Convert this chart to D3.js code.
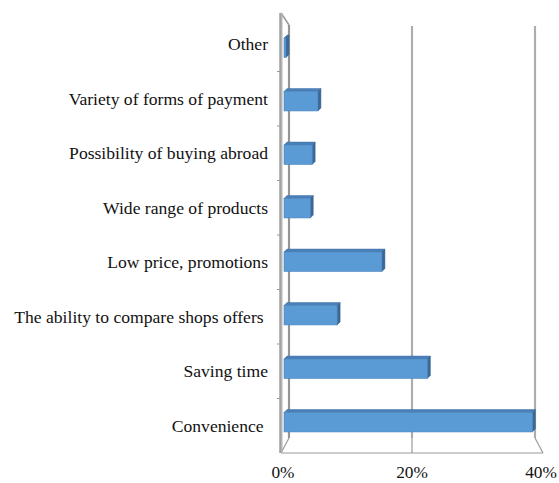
<!DOCTYPE html>
<html><head><meta charset="utf-8">
<script src="https://cdn.jsdelivr.net/npm/d3@7"></script>
<style>
html,body{margin:0;padding:0;background:#fff;}
svg{display:block;}
text{font-family:"Liberation Serif","DejaVu Serif","Times New Roman",serif;fill:#111;white-space:pre;}
</style></head>
<body><svg id="c" width="559" height="483"></svg>
<script>
const categories = ["Other","Variety of forms of payment","Possibility of buying abroad","Wide range of products","Low price, promotions","The ability to compare shops offers ","Saving time","Convenience "];
const values = [0.3, 5.3, 4.4, 4.1, 15.3, 8.3, 22.4, 38.8];
const tickValues = [0, 20, 40];
const tickLabels = ["0%","20%","40%"];

const svg = d3.select("#c");

const xFront = d3.scaleLinear().domain([0,40]).range([281,543]);
const xBack  = d3.scaleLinear().domain([0,40]).range([289,535]);
const xBar   = d3.scaleLinear().domain([0,40]).range([284,540]);
const yFront = d3.scaleBand().domain(categories).range([17,453]);
const yBar   = d3.scaleBand().domain(categories).range([20,448]).paddingInner(0.6).paddingOuter(0.3);
const backTop = 25, backBot = 438, frontTop = 13, frontBot = 453;

const grid = svg.append("g");
tickValues.forEach((t,i)=>{
  const xb = xBack(t), xf = xFront(t);
  if (i>0) {
    grid.append("line").attr("x1",xb).attr("x2",xb).attr("y1",backTop+1).attr("y2",backBot)
      .attr("stroke","#c4c4c4").attr("stroke-width",2.2);
    grid.append("line").attr("x1",xb).attr("x2",xb).attr("y1",backTop+1).attr("y2",backBot)
      .attr("stroke","#8c8c8c").attr("stroke-width",0.8);
  }
  grid.append("line").attr("x1",xb).attr("x2",xf).attr("y1",backBot).attr("y2",frontBot)
    .attr("stroke","#9a9a9a").attr("stroke-width",1.2);
});
grid.append("line").attr("x1",xBack(0)).attr("x2",xBack(0)).attr("y1",backTop).attr("y2",backBot)
  .attr("stroke","#a8a8a8").attr("stroke-width",2.2);
grid.append("line").attr("x1",xBack(0)).attr("x2",xBack(0)).attr("y1",backTop).attr("y2",backBot)
  .attr("stroke","#7a7a7a").attr("stroke-width",0.8);
grid.append("line").attr("x1",xFront(0)).attr("x2",xBack(0)).attr("y1",frontTop).attr("y2",backTop)
  .attr("stroke","#9a9a9a").attr("stroke-width",1.5);
grid.append("line").attr("x1",xFront(0)).attr("x2",xFront(40)).attr("y1",frontBot).attr("y2",frontBot)
  .attr("stroke","#9a9a9a").attr("stroke-width",1.2);
grid.append("line").attr("x1",xFront(0)).attr("x2",xFront(0)).attr("y1",frontTop).attr("y2",frontBot)
  .attr("stroke","#b4b4b4").attr("stroke-width",3);
grid.append("line").attr("x1",xFront(0)-1).attr("x2",xFront(0)-1).attr("y1",frontTop).attr("y2",frontBot)
  .attr("stroke","#858585").attr("stroke-width",0.8);

categories.slice(1).forEach(c=>{
  const y = yFront(c);
  grid.append("line").attr("x1",xFront(0)-4).attr("x2",xFront(0)).attr("y1",y).attr("y2",y)
    .attr("stroke","#9a9a9a").attr("stroke-width",1);
});

const dx = 3, dy = -3;
const bars = svg.append("g");
categories.forEach((c,i)=>{
  const x0 = xBar(0), x1 = xBar(values[i]);
  const y0 = yBar(c) + 2, h = yBar.bandwidth() - 2;
  bars.append("path").attr("d",`M${x0},${y0}L${x0+dx},${y0+dy}L${x1+dx},${y0+dy}L${x1},${y0}Z`)
    .attr("fill","#4a80ba").attr("stroke","#3f70a5").attr("stroke-width",0.5);
  bars.append("path").attr("d",`M${x1},${y0}L${x1+dx},${y0+dy}L${x1+dx},${y0+dy+h}L${x1},${y0+h}Z`)
    .attr("fill","#3a6a9a").attr("stroke","#335d88").attr("stroke-width",0.5);
  bars.append("rect").attr("x",x0).attr("y",y0).attr("width",Math.max(0.5,x1-x0)).attr("height",h)
    .attr("fill","#5b9bd5").attr("stroke","#4a84bd").attr("stroke-width",0.6);
});

const lab = svg.append("g");
categories.forEach(c=>{
  lab.append("text").attr("x",268).attr("y",yFront(c)+yFront.bandwidth()/2)
    .attr("dy","0.35em").attr("text-anchor","end").attr("font-size",17.6).text(c);
});
tickValues.forEach((t,i)=>{
  lab.append("text").attr("x",xFront(t) + (i===0?2:(i===2?-2:0))).attr("y",478)
    .attr("text-anchor","middle").attr("font-size",17.3).text(tickLabels[i]);
});
</script></body></html>
